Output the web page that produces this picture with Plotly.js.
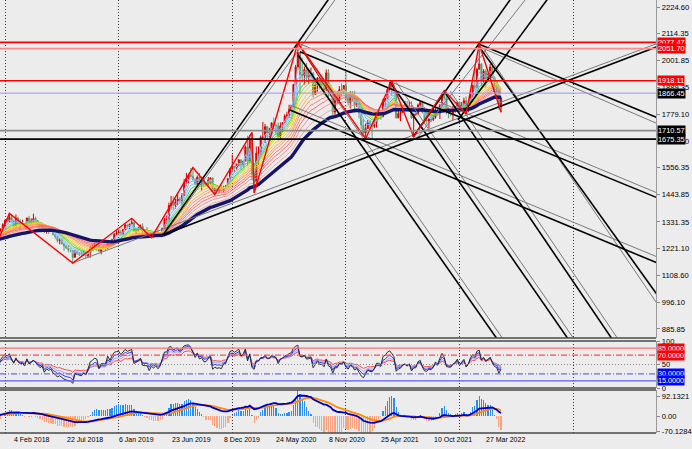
<!DOCTYPE html>
<html><head><meta charset="utf-8">
<script src="https://cdn.plot.ly/plotly-3.0.1.min.js"></script>
<style>html,body{margin:0;padding:0;background:#ececec;}#chart{width:692px;height:449px;}</style>
</head><body><div id="chart"></div>
<script>
// ---- time base: week index 0 = week of 7 Jan 2018 ----
const START = Date.UTC(2018, 0, 7);
const WEEK_MS = 7 * 86400000;
function wdate(w) { return new Date(START + w * WEEK_MS).toISOString().replace('T', ' ').slice(0, 19); }

// ---- 2017 weekly closes (indicator warm-up only, weeks -53..-4) ----
const warmClose = [1173,1196,1205,1191,1220,1234,1236,1257,1226,1201,1229,1244,1247,1254,1285,1283,1268,1228,1228,1254,1267,1279,1266,1254,1256,1242,1212,1228,1254,1269,1258,1290,1284,1291,1325,1346,1320,1297,1280,1274,1304,1280,1273,1269,1294,1294,1288,1280,1248,1257];

// ---- weekly candles, first week index -3 ----
const firstWeek = -3;
const open = [1257,1278,1302,1320,1338,1332,1350,1333,1316,1347,1330,1322,1324,1313,1347,1325,1332,1345,1336,1323,1315,1320,1291,1302,1294,1298,1278,1270,1253,1256,1241,1231,1223,1214,1212,1184,1206,1201,1196,1194,1199,1191,1203,1222,1227,1235,1233,1209,1222,1223,1222,1248,1238,1257,1280,1285,1289,1282,1298,1318,1314,1322,1328,1293,1298,1302,1312,1292,1291,1291,1275,1286,1280,1285,1277,1283,1305,1341,1341,1399,1409,1400,1415,1426,1419,1441,1497,1513,1527,1520,1506,1488,1517,1497,1505,1489,1490,1505,1514,1459,1468,1462,1464,1460,1476,1478,1510,1552,1562,1557,1571,1589,1570,1584,1643,1585,1674,1530,1499,1617,1620,1683,1683,1727,1700,1702,1743,1735,1730,1685,1730,1743,1771,1775,1799,1810,1902,1975,2035,1944,1940,1964,1934,1941,1950,1861,1900,1930,1899,1902,1879,1951,1889,1871,1788,1839,1839,1881,1877,1898,1849,1828,1856,1847,1814,1824,1784,1734,1700,1719,1745,1732,1729,1744,1777,1777,1768,1831,1844,1881,1903,1891,1877,1764,1781,1787,1808,1815,1802,1814,1763,1780,1781,1817,1827,1787,1754,1751,1761,1757,1768,1793,1783,1818,1864,1846,1788,1783,1783,1798,1809,1829,1797,1817,1835,1791,1807,1860,1898,1889,1966,1988,1921,1958,1925,1945,1975,1931,1896,1883,1811];
const high = [1279,1303,1326,1338,1345,1366,1361,1340,1362,1351,1342,1340,1326,1349,1356,1346,1365,1353,1338,1327,1326,1322,1306,1307,1303,1310,1282,1272,1264,1262,1244,1236,1235,1220,1213,1214,1214,1206,1212,1211,1204,1208,1233,1236,1243,1240,1237,1225,1230,1229,1250,1251,1261,1283,1298,1298,1297,1303,1326,1320,1323,1346,1332,1300,1311,1320,1325,1297,1310,1294,1289,1289,1291,1303,1289,1306,1348,1358,1411,1439,1437,1427,1452,1434,1451,1510,1535,1531,1555,1557,1513,1524,1535,1519,1516,1497,1518,1516,1516,1474,1478,1465,1485,1481,1485,1513,1553,1611,1563,1573,1591,1591,1585,1649,1689,1692,1703,1576,1645,1645,1690,1747,1738,1730,1722,1744,1765,1735,1745,1745,1746,1779,1789,1818,1814,1905,1984,2075,2039,2015,1977,1992,1966,1973,1953,1917,1933,1933,1933,1910,1965,1966,1897,1875,1848,1875,1896,1907,1900,1959,1864,1875,1875,1876,1855,1825,1816,1760,1740,1755,1755,1740,1758,1784,1797,1790,1843,1846,1890,1912,1916,1903,1878,1795,1791,1818,1834,1834,1832,1832,1782,1795,1823,1834,1834,1809,1788,1764,1781,1800,1814,1810,1818,1869,1877,1859,1808,1793,1815,1813,1831,1831,1830,1848,1853,1814,1865,1902,1974,1972,2070,1990,1966,1966,1949,1988,1998,1936,1909,1884,1849];
const low = [1254,1278,1302,1307,1325,1330,1332,1307,1312,1321,1303,1317,1309,1307,1321,1322,1325,1336,1316,1302,1304,1284,1282,1281,1289,1275,1261,1246,1238,1236,1211,1219,1204,1205,1160,1183,1194,1189,1192,1190,1180,1183,1182,1219,1219,1211,1206,1196,1218,1211,1221,1234,1236,1256,1276,1280,1277,1276,1297,1303,1302,1319,1291,1281,1290,1299,1280,1281,1286,1270,1266,1267,1279,1275,1269,1274,1305,1321,1331,1382,1381,1386,1402,1411,1400,1440,1480,1492,1517,1504,1485,1484,1490,1459,1474,1480,1480,1486,1456,1445,1456,1452,1458,1457,1470,1477,1508,1537,1536,1546,1563,1548,1562,1580,1563,1576,1504,1451,1483,1567,1608,1676,1659,1676,1683,1690,1716,1693,1670,1671,1704,1741,1757,1763,1790,1807,1900,1965,1863,1911,1902,1916,1906,1931,1848,1861,1873,1882,1894,1860,1876,1850,1853,1774,1765,1819,1823,1855,1862,1835,1817,1802,1831,1785,1809,1761,1717,1687,1677,1718,1717,1678,1721,1723,1760,1756,1768,1808,1841,1869,1855,1867,1761,1761,1750,1784,1791,1794,1790,1759,1684,1772,1776,1810,1782,1745,1737,1721,1746,1750,1760,1772,1759,1813,1840,1778,1762,1770,1753,1785,1790,1778,1791,1805,1780,1788,1806,1849,1878,1889,1965,1895,1910,1890,1915,1940,1930,1872,1850,1797,1787];
const close = [1278,1302,1320,1338,1332,1350,1333,1316,1347,1330,1322,1324,1313,1347,1325,1332,1345,1336,1323,1315,1320,1291,1302,1294,1298,1278,1270,1253,1256,1241,1231,1223,1214,1212,1184,1206,1201,1196,1194,1199,1191,1203,1222,1227,1235,1233,1209,1222,1223,1222,1248,1238,1257,1280,1285,1289,1282,1298,1318,1314,1322,1328,1293,1298,1302,1312,1292,1291,1291,1275,1286,1280,1285,1277,1283,1305,1341,1341,1399,1409,1400,1415,1426,1419,1441,1497,1513,1527,1520,1506,1488,1517,1497,1505,1489,1490,1505,1514,1459,1468,1462,1464,1460,1476,1478,1510,1552,1562,1557,1571,1589,1570,1584,1643,1585,1674,1530,1499,1617,1620,1683,1683,1727,1700,1702,1743,1735,1730,1685,1730,1743,1771,1775,1799,1810,1902,1975,2035,1944,1940,1964,1934,1941,1950,1861,1900,1930,1899,1902,1879,1951,1889,1871,1788,1839,1839,1881,1877,1898,1849,1828,1856,1847,1814,1824,1784,1734,1700,1719,1745,1732,1729,1744,1777,1777,1768,1831,1844,1881,1903,1891,1877,1764,1781,1787,1808,1815,1802,1814,1763,1780,1781,1817,1827,1787,1754,1751,1761,1757,1768,1793,1783,1818,1864,1846,1788,1783,1783,1798,1809,1829,1797,1817,1835,1791,1807,1860,1898,1889,1966,1988,1921,1958,1925,1945,1975,1931,1896,1883,1811,1846];

// ---- horizontal price levels ----
const priceLevels = [2077.47, 2051.70, 1918.11, 1866.45, 1710.57, 1675.35];
// ---- price axis tick labels ----
const priceTicks = [2224.60, 2114.35, 2001.85, 1889.35, 1779.10, 1666.60, 1556.35, 1443.85, 1331.35, 1221.10, 1108.60, 996.10, 885.85];
// ---- date labels (week index, text) ----
const dateTickWeeks = [4, 28, 52, 76, 100, 124, 148, 172, 196, 220];
const dateTickLabels = ['4 Feb 2018','22 Jul 2018','6 Jan 2019','23 Jun 2019','8 Dec 2019','24 May 2020','8 Nov 2020','25 Apr 2021','10 Oct 2021','27 Mar 2022'];
const gridWeeks = [0, 52, 104, 156, 208, 260];

// ---- zigzag swing points [week, price] ----
const zigzag = [[-4,1236],[2,1366],[31,1160],[58,1346],[67,1266],[86,1557],[96,1445],[113,1703],[114,1451],[134,2075],[165,1677],[177,1916],[187,1684],[201,1877],[211,1780],[217,2070],[227,1787]];
const zigzagMinor = [[134,2075],[151,1830]];
// ---- trend rays [w1, p1, w2, p2] ----
const blackRays = [
  [72.3,1277,134,2075],[72.3,1277,297.9,2058],[135,2039,297.5,1435],[130.4,1796,297.5,1164],
  [217,2070,297.9,1767],[134.1,2025,225.2,844],[176.2,1913,257.7,844],[200.9,1875,277.8,844],
  [217.4,2054,297.9,1035],[186.7,1684,231.1,2254],[207.3,1755,248,2254]
];
const grayRays = [
  [72.3,1272,151,2254],[31,1160,297.9,2071],[134,2075,297.5,1455],[130.4,1817,297.5,1189],
  [217.4,2058,297.9,1742],[135.9,2046,227.9,844],[178.9,1913,260.4,844],[203.7,1875,280.5,844],
  [218.8,2054,297.9,998],[189,1684,238,2254]
];

// ---- indicator settings ----
const maPeriods = [3,5,7,9,11,13,16,19,22,26,30,35,42];
const slowMaPeriod = 50;
const rsiPeriods = [7,10,14,21];
const rsiLevels = [85, 70, 50, 30, 15];
const macdFast = 12, macdSlow = 26, macdSignal = 9, histGain = 5;

// ================= computations =================
const N = close.length;
const dates = close.map((_, i) => wdate(firstWeek + i));
const allClose = warmClose.concat(close);
const OFF = warmClose.length;

function ema(src, n) { const k = 2/(n+1); const out = []; let e = src[0];
  for (let i = 0; i < src.length; i++) { e = i === 0 ? src[0] : src[i]*k + e*(1-k); out.push(e); } return out; }
function rsi(src, n) { const out = new Array(src.length).fill(null); let g = 0, l = 0;
  for (let i = 1; i <= n; i++) { const d = src[i]-src[i-1]; if (d > 0) g += d; else l -= d; }
  g /= n; l /= n; out[n] = l === 0 ? 100 : 100 - 100/(1+g/l);
  for (let i = n+1; i < src.length; i++) { const d = src[i]-src[i-1];
    g = (g*(n-1) + Math.max(d,0))/n; l = (l*(n-1) + Math.max(-d,0))/n;
    out[i] = l === 0 ? 100 : 100 - 100/(1+g/l); }
  return out; }
const vis = a => a.slice(OFF);

const maColors = ['#9cc2ff','#7cb0ff','#5ccfe6','#3cc83c','#9ad21e','#e6dc00','#ffc43a','#ffa544','#ff8c5a','#ff7464','#ff5c5c','#f28a8a','#eaa4a4'];
const traces = [];
maPeriods.forEach((p, i) => traces.push({type:'scatter', mode:'lines', x:dates, y:vis(ema(allClose,p)),
  line:{color:maColors[i], width:0.9}, hoverinfo:'skip', xaxis:'x', yaxis:'y'}));
traces.push({type:'candlestick', x:dates, open:open, high:high, low:low, close:close, xaxis:'x', yaxis:'y',
  increasing:{line:{color:'#dc0000', width:1}, fillcolor:'#dc0000'},
  decreasing:{line:{color:'#5f9c72', width:1}, fillcolor:'#5f9c72'}, whiskerwidth:0, hoverinfo:'skip'});
traces.push({type:'scatter', mode:'lines', x:dates, y:vis(ema(allClose, slowMaPeriod)),
  line:{color:'#14146a', width:3.4}, hoverinfo:'skip', xaxis:'x', yaxis:'y'});

const W_END = 300;
function rayTrace(seg, color, width) { const [w1,p1,w2,p2] = seg; const s = (p2-p1)/(w2-w1);
  return {type:'scatter', mode:'lines', x:[wdate(w1), wdate(W_END)], y:[p1, p1 + s*(W_END-w1)],
    line:{color:color, width:width}, hoverinfo:'skip', xaxis:'x', yaxis:'y'}; }
grayRays.forEach(s => traces.push(rayTrace(s, '#7a7a7a', 1)));
blackRays.forEach(s => traces.push(rayTrace(s, '#000000', 1.6)));
traces.push({type:'scatter', mode:'lines', x:zigzagMinor.map(p=>wdate(p[0])), y:zigzagMinor.map(p=>p[1]),
  line:{color:'#a00000', width:1}, hoverinfo:'skip', xaxis:'x', yaxis:'y'});
traces.push({type:'scatter', mode:'lines', x:zigzag.map(p=>wdate(p[0])), y:zigzag.map(p=>p[1]),
  line:{color:'#ff0000', width:1.4}, hoverinfo:'skip', xaxis:'x', yaxis:'y'});

// RSI
const rsiColors = ['#2a2a2a','#3434ff','#a0a0ff','#ff4a4a'];
const rsiOrder = [3,2,1,0];
rsiOrder.forEach(i => traces.push({type:'scatter', mode:'lines', x:dates, y:vis(rsi(allClose, rsiPeriods[i])),
  line:{color:rsiColors[i], width:1}, hoverinfo:'skip', xaxis:'x', yaxis:'y2'}));

// MACD
const eF = ema(allClose, macdFast), eS = ema(allClose, macdSlow);
const macd = eF.map((v,i) => v - eS[i]);
const sig = ema(macd, macdSignal);
const hist = macd.map((v,i) => (v - sig[i]) * histGain);
const histVis = vis(hist);
traces.push({type:'bar', x:dates, y:histVis, width:WEEK_MS*0.55, marker:{color:histVis.map(v => v >= 0 ? '#2a90f0' : '#ffa27e'), line:{width:0}},
  hoverinfo:'skip', xaxis:'x', yaxis:'y3'});
traces.push({type:'scatter', mode:'lines', x:dates, y:vis(sig), line:{color:'#ff8c00', width:1.8}, hoverinfo:'skip', xaxis:'x', yaxis:'y3'});
traces.push({type:'scatter', mode:'lines', x:dates, y:vis(macd), line:{color:'#0000c8', width:1.8}, hoverinfo:'skip', xaxis:'x', yaxis:'y3'});

// ================= layout =================
const FONT = 'Liberation Sans, Arial, sans-serif';
const PH = 433;
const mainDom = [(PH-338)/PH, 1];
const rsiDom = [(PH-388)/PH, (PH-341)/PH];
const macdDom = [0, (PH-390)/PH];

const levelColors = ['#ff0000','#ff8a8a','#ff0000','#9a9aee','#8a8a8a','#000000'];
const levelWidths = [1.6,1.6,1.6,1,1.6,1.6];
const levelBg = ['#ff0000','#ff0000','#ff0000','#000000','#000000','#000000'];
const rsiLvlColors = ['#ff7070','#ff4c4c','#8a8a8a','#6a6aff','#5a5aff'];
const rsiLvlDash = ['solid','6px,2px,1px,2px','1px,2px','6px,2px,1px,2px','solid'];
const rsiLvlBg = ['#ff0000','#ff0000',null,'#0000ff','#0000ff'];

const shapes = [];
priceLevels.forEach((v,i) => shapes.push({type:'line', xref:'paper', x0:0, x1:1, yref:'y', y0:v, y1:v, line:{color:levelColors[i], width:levelWidths[i]}}));
rsiLevels.forEach((v,i) => shapes.push({type:'line', xref:'paper', x0:0, x1:1, yref:'y2', y0:v, y1:v, line:{color:rsiLvlColors[i], width:1.2, dash:rsiLvlDash[i]}}));
[mainDom[0], rsiDom[1], rsiDom[0], macdDom[1], 0].forEach(y => shapes.push({type:'line', xref:'paper', x0:0, x1:1, yref:'paper', y0:y, y1:y, line:{color:'#4a4a4a', width:1.5}}));

const annotations = [];
priceLevels.forEach((v,i) => annotations.push({xref:'paper', x:1, xanchor:'left', xshift:1, yref:'y', y:v, yanchor:'middle',
  text:v.toFixed(2), showarrow:false, bgcolor:levelBg[i], borderpad:0, font:{family:FONT, size:7.4, color:'#ffffff'}}));
rsiLevels.forEach((v,i) => { if (rsiLvlBg[i]) annotations.push({xref:'paper', x:1, xanchor:'left', xshift:1, yref:'y2', y:v, yanchor:'middle',
  text:v.toFixed(4), showarrow:false, bgcolor:rsiLvlBg[i], borderpad:0, font:{family:FONT, size:7.2, color:'#ffffff'}}); });
dateTickWeeks.forEach((w,i) => annotations.push({xref:'x', x:wdate(w), xanchor:'left', xshift:-1.5, yref:'paper', y:0, yanchor:'top', yshift:-1,
  text:dateTickLabels[i], showarrow:false, font:{family:FONT, size:7, color:'#000000'}}));

const yCommon = {side:'right', anchor:'x', showgrid:false, zeroline:false, showline:true, linecolor:'#9a9a9a', linewidth:1.2,
  ticks:'outside', ticklen:3, tickcolor:'#8a8a8a', tickfont:{family:FONT, size:7.6, color:'#000000'}, fixedrange:true};

const layout = {
  width:692, height:449, margin:{l:0, r:36, t:0, b:16},
  paper_bgcolor:'#ececec', plot_bgcolor:'#ececec', showlegend:false, hovermode:false, bargap:0,
  xaxis:{type:'date', range:[wdate(-2.29), wdate(297.9)], anchor:'y3', showticklabels:false, ticks:'',
    tickmode:'array', tickvals:gridWeeks.map(wdate), showgrid:true, gridcolor:'#3a3a3a', gridwidth:1, griddash:'1px,2px',
    zeroline:false, showline:false, rangeslider:{visible:false}, fixedrange:true},
  yaxis:Object.assign({}, yCommon, {domain:mainDom, range:[848.3, 2253.7], tickmode:'array', tickvals:priceTicks, ticktext:priceTicks.map(v=>v.toFixed(2))}),
  yaxis2:Object.assign({}, yCommon, {domain:rsiDom, range:[0,100], tickmode:'array', tickvals:[0,50,100], ticktext:['0','50','100']}),
  yaxis3:Object.assign({}, yCommon, {domain:macdDom, range:[-79.4,121.5], tickmode:'array', tickvals:[-70.1284,0,92.1321], ticktext:['-70.1284','0.00','92.1321']}),
  shapes:shapes, annotations:annotations
};
Plotly.newPlot('chart', traces, layout, {displayModeBar:false, staticPlot:true});
</script></body></html>
